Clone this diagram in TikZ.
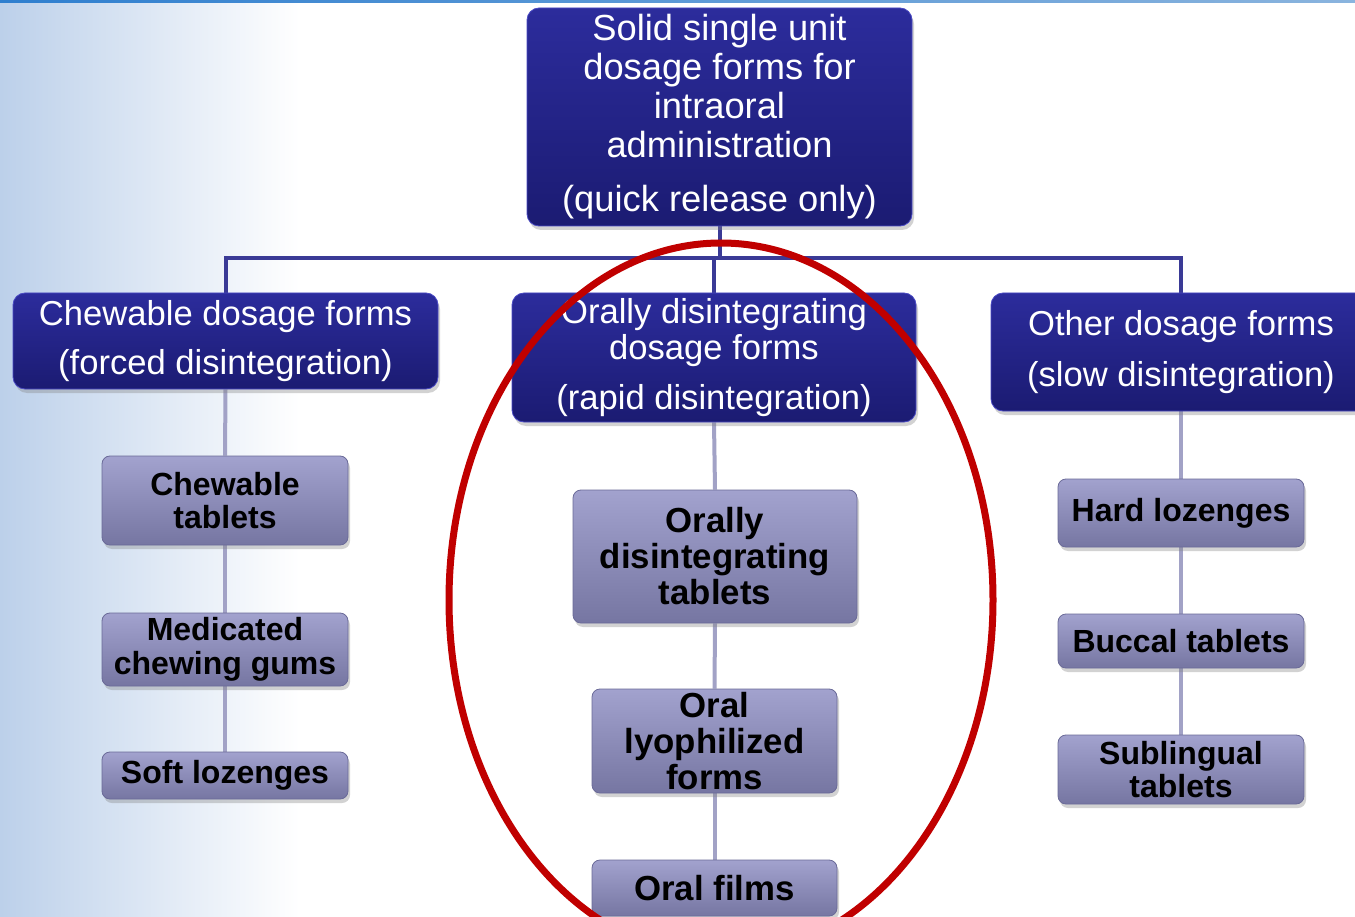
\documentclass[tikz,border=0pt]{standalone}
\usepackage{fontspec}
\setmainfont{Liberation Sans}
\usetikzlibrary{shadows}

\definecolor{navyTop}{HTML}{2C2C9C}
\definecolor{navyBot}{HTML}{1B1B72}
\definecolor{navyEdge}{HTML}{4A4AC4}
\definecolor{lavTop}{HTML}{A2A2CE}
\definecolor{lavMid}{HTML}{8A8AB8}
\definecolor{lavBot}{HTML}{7676A2}
\definecolor{lavEdge}{HTML}{6A6A98}
\definecolor{trunkCol}{HTML}{3A3A96}
\definecolor{twigCol}{HTML}{A2A2C6}
\definecolor{ringRed}{HTML}{C00000}
\definecolor{bgBlue}{HTML}{BCD0EA}
\definecolor{stripL}{HTML}{2F7FCF}
\definecolor{stripR}{HTML}{8AB4DE}

\pgfdeclarelayer{bg}
\pgfdeclarelayer{links}
\pgfsetlayers{bg,links,main}

\tikzset{
  headbox/.style={rounded corners=12pt, draw=navyEdge, line width=0.8pt,
    top color=navyTop, bottom color=navyBot, text=white, align=center,
    inner sep=0pt, font=\fontsize{34.6}{36}\selectfont,
    drop shadow={opacity=0.35, shadow xshift=2pt, shadow yshift=-4pt}},
  leafbox/.style={rounded corners=8pt, draw=lavEdge, line width=0.8pt,
    top color=lavTop, middle color=lavMid, bottom color=lavBot,
    text=black, align=center, inner sep=0pt,
    font=\fontsize{32}{33.5}\selectfont\bfseries,
    minimum width=246pt,
    drop shadow={opacity=0.35, shadow xshift=2pt, shadow yshift=-4pt}},
  bigleaf/.style={leafbox, font=\fontsize{34.8}{36}\selectfont\bfseries},
  trunk/.style={draw=trunkCol, line width=4pt, line join=miter},
  twig/.style={draw=twigCol, line width=4pt},
  ring/.style={draw=ringRed, line width=7pt}
}

\begin{document}
\begin{tikzpicture}[x=1pt,y=-1pt]
\useasboundingbox (0,0) rectangle (1355,917);
\clip (0,0) rectangle (1355,917);

% page background
\begin{pgfonlayer}{bg}
  \fill[white] (0,0) rectangle (1355,917);
  \shade[left color=bgBlue, right color=white] (0,0) rectangle (300,917);
  \shade[left color=stripL, right color=stripR] (0,0) rectangle (1355,2.5);
\end{pgfonlayer}

% root
\node[headbox, minimum width=385pt, minimum height=218pt, font=\fontsize{36.3}{39}\selectfont]
  (root) at (719.5,117)
  {Solid single unit\\dosage forms for\\intraoral\\administration\\[15pt](quick release only)};

% first level
\node[headbox, minimum width=425pt, minimum height=96pt] (chew) at (225.5,341)
  {Chewable dosage forms\\[13pt](forced disintegration)};
\node[headbox, minimum width=404pt, minimum height=129pt] (odf) at (714,357.5)
  {Orally disintegrating\\dosage forms\\[14pt](rapid disintegration)};
\node[headbox, minimum width=380pt, minimum height=118pt] (other) at (1181,352)
  {Other dosage forms\\[15pt](slow disintegration)};

% chewable branch
\node[leafbox, minimum height=89pt] (ct) at (225,500.5) {Chewable\\tablets};
\node[leafbox, minimum height=73pt] (mcg) at (225,649.5) {Medicated\\chewing gums};
\node[leafbox, minimum height=47pt] (sl) at (225,775.5) {Soft lozenges};

% orally disintegrating branch
\node[bigleaf, minimum width=284pt, minimum height=133pt] (odt) at (715,556.5)
  {Orally\\disintegrating\\tablets};
\node[bigleaf, minimum width=245pt, minimum height=104pt] (olf) at (714.5,741)
  {Oral\\lyophilized\\forms};
\node[bigleaf, minimum width=245pt, minimum height=56pt] (of) at (714.5,888)
  {Oral films};

% other branch
\node[leafbox, minimum height=68pt] (hl) at (1181,513) {Hard lozenges};
\node[leafbox, minimum height=54pt] (bt) at (1181,641) {Buccal tablets};
\node[leafbox, minimum height=69pt] (st) at (1181,769.5) {Sublingual\\tablets};

% connectors
\coordinate (bus) at (0,258);
\begin{pgfonlayer}{links}
  \draw[trunk] (root.south) -- (root.south |- bus);
  \draw[trunk] (chew.north) -- (chew.north |- bus) -| (other.north);
  \draw[trunk] (odf.north) -- (odf.north |- bus);
  \draw[twig] (chew.south) -- (ct.north);
  \draw[twig] (ct.south) -- (mcg.north);
  \draw[twig] (mcg.south) -- (sl.north);
  \draw[twig] (odf.south) -- (odt.north);
  \draw[twig] (odt.south) -- (olf.north);
  \draw[twig] (olf.south) -- (of.north);
  \draw[twig] (other.south) -- (hl.north);
  \draw[twig] (hl.south) -- (bt.north);
  \draw[twig] (bt.south) -- (st.north);
\end{pgfonlayer}

% highlight ring around the rapid-disintegration branch
\coordinate (ringc) at (721,600);
\draw[ring] (ringc) ellipse [x radius=272pt, y radius=357pt];
\end{tikzpicture}
\end{document}
